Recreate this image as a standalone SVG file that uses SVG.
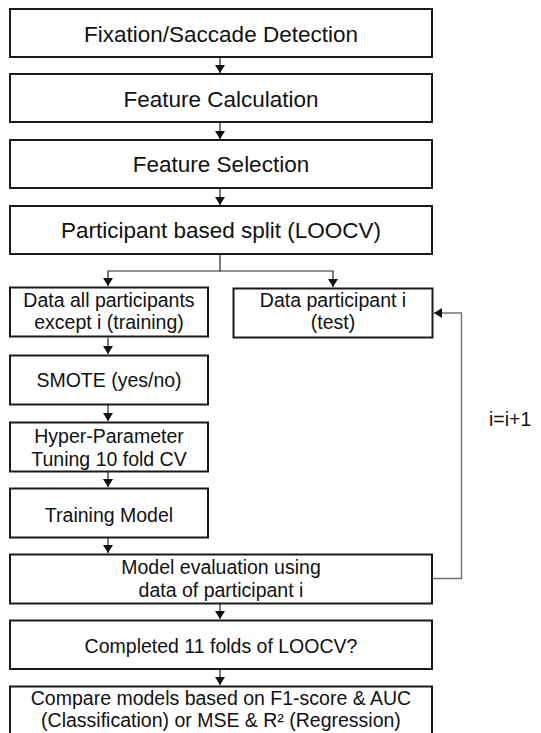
<svg xmlns="http://www.w3.org/2000/svg" width="541" height="733" viewBox="0 0 541 733">
  <style>
    .box { fill: #ffffff; stroke: #1a1a1a; stroke-width: 2; }
    .lg { font-family: "Liberation Sans", Arial, sans-serif; font-size: 22.5px; fill: #111; text-anchor: middle; }
    .md { font-family: "Liberation Sans", Arial, sans-serif; font-size: 19.5px; fill: #111; text-anchor: middle; }
    .wire { fill: none; stroke: #222; stroke-width: 1.2; }
    .loop { fill: none; stroke: #707070; stroke-width: 1.4; }
  </style>
  <defs>
    <marker id="ah" viewBox="0 0 8 10" refX="8" refY="5" markerWidth="8" markerHeight="10" markerUnits="userSpaceOnUse" orient="auto">
      <path d="M0,0 L8,5 L0,10 Z" fill="#111"/>
    </marker>
  </defs>
  <rect width="541" height="733" fill="#ffffff"/>

  <g id="connectors">
    <line class="wire" x1="220" y1="57" x2="220" y2="73" marker-end="url(#ah)"/>
    <line class="wire" x1="220" y1="123" x2="220" y2="139" marker-end="url(#ah)"/>
    <line class="wire" x1="220" y1="189" x2="220" y2="205" marker-end="url(#ah)"/>
    <polyline class="wire" points="220,255 220,271 108,271 108,286" marker-end="url(#ah)"/>
    <polyline class="wire" points="220,271 333,271 333,287" marker-end="url(#ah)"/>
    <line class="wire" x1="108" y1="338" x2="108" y2="354" marker-end="url(#ah)"/>
    <line class="wire" x1="108" y1="405" x2="108" y2="421" marker-end="url(#ah)"/>
    <line class="wire" x1="108" y1="472" x2="108" y2="487" marker-end="url(#ah)"/>
    <line class="wire" x1="108" y1="538" x2="108" y2="553" marker-end="url(#ah)"/>
    <line class="wire" x1="220" y1="604" x2="220" y2="619" marker-end="url(#ah)"/>
    <line class="wire" x1="220" y1="670" x2="220" y2="685" marker-end="url(#ah)"/>
    <polyline class="loop" points="433,578.5 461.5,578.5 461.5,313 434,313" marker-end="url(#ah)"/>
    <text class="md" x="489" y="426" text-anchor="start" style="text-anchor:start">i=i+1</text>
  </g>

  <g id="fixation">
    <rect class="box" x="10" y="9" width="422" height="48"/>
    <text class="lg" x="221" y="41.5">Fixation/Saccade Detection</text>
  </g>
  <g id="feature-calculation">
    <rect class="box" x="10" y="74" width="422" height="48"/>
    <text class="lg" x="221" y="106.5">Feature Calculation</text>
  </g>
  <g id="feature-selection">
    <rect class="box" x="10" y="140" width="422" height="48"/>
    <text class="lg" x="221" y="172">Feature Selection</text>
  </g>
  <g id="split">
    <rect class="box" x="10" y="206" width="422" height="48"/>
    <text class="lg" x="221" y="238">Participant based split (LOOCV)</text>
  </g>
  <g id="training-data">
    <rect class="box" x="10" y="287.5" width="198" height="49"/>
    <text class="md" x="109" y="306.5">Data all participants</text>
    <text class="md" x="109" y="328.5">except i (training)</text>
  </g>
  <g id="test-data">
    <rect class="box" x="233.5" y="288.5" width="199" height="49"/>
    <text class="md" x="333" y="307">Data participant i</text>
    <text class="md" x="333" y="329">(test)</text>
  </g>
  <g id="smote">
    <rect class="box" x="10" y="355.5" width="198" height="49"/>
    <text class="md" x="109" y="386.5">SMOTE (yes/no)</text>
  </g>
  <g id="tuning">
    <rect class="box" x="10" y="422.5" width="198" height="49"/>
    <text class="md" x="109" y="443">Hyper-Parameter</text>
    <text class="md" x="109" y="466">Tuning 10 fold CV</text>
  </g>
  <g id="training-model">
    <rect class="box" x="10" y="488.5" width="198" height="49"/>
    <text class="md" x="109" y="521.5">Training Model</text>
  </g>
  <g id="evaluation">
    <rect class="box" x="10" y="554.5" width="422" height="49"/>
    <text class="md" x="221" y="574">Model evaluation using</text>
    <text class="md" x="221" y="596.5">data of participant i</text>
  </g>
  <g id="completed">
    <rect class="box" x="10" y="620.5" width="422" height="48.5"/>
    <text class="md" x="221" y="652.5">Completed 11 folds of LOOCV?</text>
  </g>
  <g id="compare">
    <rect class="box" x="10" y="686.5" width="422" height="52"/>
    <text class="md" x="221" y="705">Compare models based on F1-score &amp; AUC</text>
    <text class="md" x="221" y="727">(Classification) or MSE &amp; R² (Regression)</text>
  </g>
</svg>
